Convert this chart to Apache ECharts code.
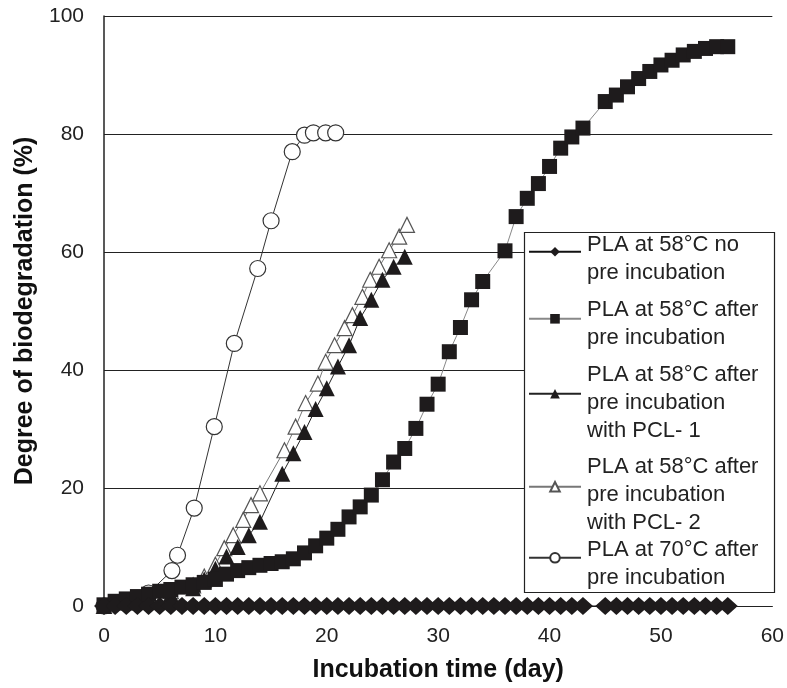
<!DOCTYPE html>
<html><head><meta charset="utf-8">
<script src="https://cdn.jsdelivr.net/npm/echarts@6/dist/echarts.min.js"></script>
<style>html,body{margin:0;padding:0;background:#fff}#c{width:787px;height:688px}</style>
</head><body><div id="c"></div>
<script>
// ---- data ----
const xTicks = [0, 10, 20, 30, 40, 50, 60];
const yTicks = [0, 20, 40, 60, 80, 100];
const seriesNames = [
  'PLA at 58°C no\npre incubation',
  'PLA at 58°C after\npre incubation',
  'PLA at 58°C after\npre incubation\nwith PCL- 1',
  'PLA at 58°C after\npre incubation\nwith PCL- 2',
  'PLA at 70°C after\npre incubation'
];
// PLA 58°C, no pre incubation (diamonds)
const noPreDays = [0,1,2,3,4,5,6,7,8,9,10,11,12,13,14,15,16,17,18,19,20,21,22,23,24,25,26,27,28,29,30,31,32,33,34,35,36,37,38,39,40,41,42,43,45,46,47,48,49,50,51,52,53,54,55,56];
const noPreValues = [0,0,0,0,0,0,0,0,0,0,0,0,0,0,0,0,0,0,0,0,0,0,0,0,0,0,0,0,0,0,0,0,0,0,0,0,0,0,0,0,0,0,0,0,0,0,0,0,0,0,0,0,0,0,0,0];
// PLA 58°C after pre incubation (squares)
const preDays = [0,1,2,3,4,5,6,7,8,9,10,11,12,13,14,15,16,17,18,19,20,21,22,23,24,25,26,27,28,29,30,31,32,33,34,36,37,38,39,40,41,42,43,45,46,47,48,49,50,51,52,53,54,55,56];
const preValues = [0.2,0.8,1.2,1.6,2.0,2.5,2.8,3.2,3.6,4.0,4.5,5.4,6.0,6.5,6.9,7.2,7.5,8.0,9.0,10.2,11.5,13.0,15.1,16.8,18.8,21.4,24.4,26.7,30.1,34.2,37.6,43.1,47.2,51.9,55.0,60.2,66.0,69.1,71.6,74.5,77.6,79.5,81.0,85.5,86.6,88.0,89.4,90.6,91.7,92.5,93.4,94.0,94.5,94.8,94.8];
// PLA 58°C after pre incubation with PCL-1 (filled triangles)
const pcl1Days = [0,2,4,6,8,9,10,11,12,13,14,16,17,18,19,20,21,22,23,24,25,26,27];
const pcl1Values = [0,0.6,1.3,2.0,3.0,4.5,6.3,8.4,10.0,12.0,14.3,22.4,25.9,29.5,33.4,36.9,40.6,44.2,48.8,51.9,55.3,57.5,59.2];
// PLA 58°C after pre incubation with PCL-2 (open triangles)
const pcl2Days = [0,2,4,6,8,9,10,10.8,11.6,12.5,13.2,14.0,16.2,17.2,18.1,19.2,19.9,20.7,21.6,22.3,23.2,23.9,24.7,25.6,26.5,27.2];
const pcl2Values = [0,0.8,1.5,2.5,3.5,5.0,7.0,9.8,12.0,14.6,17.1,19.1,26.4,30.4,34.4,37.7,41.4,44.2,47.1,49.3,52.4,55.3,57.5,60.3,62.6,64.6];
// PLA 70°C after pre incubation (open circles)
const t70Days = [0,2,4,6.1,6.6,8.1,9.9,11.7,13.8,15.0,16.9,18.0,18.8,19.9,20.8];
const t70Values = [0,0.8,2.2,6.0,8.6,16.6,30.4,44.5,57.2,65.3,77.0,79.8,80.2,80.2,80.2];

// ---- chart ----
const FONT = '"Liberation Sans", Arial, Helvetica, sans-serif';
const zip = (a, b) => a.map((v, i) => [v, b[i]]);

const chart = echarts.init(document.getElementById('c'), null, {renderer: 'canvas'});

// legend icon (line + symbol) only
function legendIcon(name, iconCenterY) {
  return {
    data: [name], left: 528, top: iconCenterY - 6, orient: 'vertical', padding: 0,
    itemWidth: 52, itemHeight: 12, itemGap: 0, selectedMode: false,
    formatter: () => '',
    textStyle: {fontSize: 1, lineHeight: 1}
  };
}
// legend text only
function legendText(name, textTop) {
  return {
    data: [name], left: 581, top: textTop, orient: 'vertical', padding: 0,
    icon: 'none', itemWidth: 1, itemHeight: 1, itemGap: 0, selectedMode: false,
    textStyle: {fontFamily: FONT, fontSize: 22, lineHeight: 28, color: '#222'}
  };
}

chart.setOption({
  animation: false,
  backgroundColor: '#fff',
  grid: {left: 104, right: 12, top: 16, bottom: 82, containLabel: false},
  xAxis: {
    type: 'value', min: xTicks[0], max: xTicks[xTicks.length - 1], interval: 10,
    name: 'Incubation time (day)', nameLocation: 'middle', nameGap: 52,
    nameTextStyle: {fontFamily: FONT, fontSize: 25, fontWeight: 'bold', color: '#111'},
    axisLine: {show: true, lineStyle: {color: '#222', width: 1}},
    axisTick: {show: false},
    splitLine: {show: false},
    axisLabel: {fontFamily: FONT, fontSize: 21, color: '#222', margin: 20}
  },
  yAxis: {
    type: 'value', min: yTicks[0], max: yTicks[yTicks.length - 1], interval: 20,
    name: 'Degree of biodegradation (%)', nameLocation: 'middle', nameGap: 64,
    nameTextStyle: {fontFamily: FONT, fontSize: 25, fontWeight: 'bold', color: '#111'},
    axisLine: {show: true, lineStyle: {color: '#222', width: 1.5}},
    axisTick: {show: false},
    splitLine: {show: true, lineStyle: {color: '#222', width: 1.2}},
    axisLabel: {fontFamily: FONT, fontSize: 21, color: '#222', margin: 20}
  },
  legend: [
    legendIcon(seriesNames[0], 253),
    legendIcon(seriesNames[1], 320),
    legendIcon(seriesNames[2], 395),
    legendIcon(seriesNames[3], 487),
    legendIcon(seriesNames[4], 558),
    legendText(seriesNames[0], 231),
    legendText(seriesNames[1], 296),
    legendText(seriesNames[2], 361),
    legendText(seriesNames[3], 453),
    legendText(seriesNames[4], 536)
  ],
  graphic: [{
    type: 'rect', z: 3, silent: true,
    shape: {x: 524.5, y: 232.5, width: 250, height: 360},
    style: {fill: '#fff', stroke: '#222', lineWidth: 1.2}
  }],
  series: [
    {
      name: seriesNames[4], type: 'line', data: zip(t70Days, t70Values),
      symbol: 'circle', symbolSize: 16, showAllSymbol: true,
      itemStyle: {color: '#fff', borderColor: '#333', borderWidth: 1.2},
      lineStyle: {color: '#333', width: 1}
    },
    {
      name: seriesNames[3], type: 'line', data: zip(pcl2Days, pcl2Values),
      symbol: 'triangle', symbolSize: 15, showAllSymbol: true,
      itemStyle: {color: '#fff', borderColor: '#555', borderWidth: 1.2},
      lineStyle: {color: '#777', width: 1}
    },
    {
      name: seriesNames[2], type: 'line', data: zip(pcl1Days, pcl1Values),
      symbol: 'triangle', symbolSize: 16, showAllSymbol: true,
      itemStyle: {color: '#1e1b1c'},
      lineStyle: {color: '#222', width: 1}
    },
    {
      name: seriesNames[1], type: 'line', data: zip(preDays, preValues),
      symbol: 'rect', symbolSize: 15, showAllSymbol: true,
      itemStyle: {color: '#1e1b1c'},
      lineStyle: {color: '#888', width: 1}
    },
    {
      name: seriesNames[0], type: 'line', data: zip(noPreDays, noPreValues),
      symbol: 'diamond', symbolSize: [20, 18], showAllSymbol: true,
      itemStyle: {color: '#1e1b1c'},
      lineStyle: {color: '#111', width: 1}
    }
  ]
});
</script>
</body></html>
